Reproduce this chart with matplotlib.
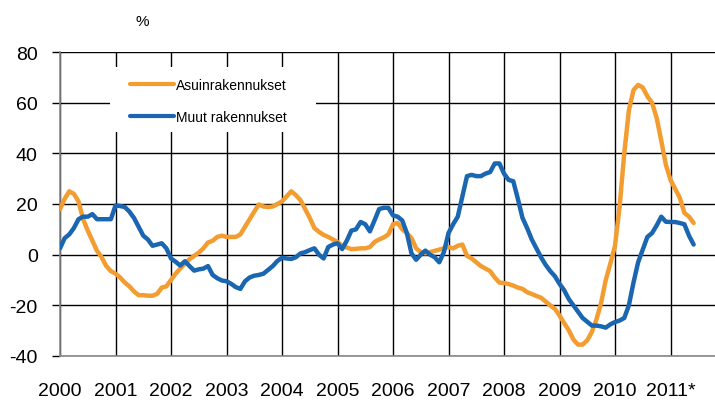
import matplotlib
matplotlib.use("Agg")
import matplotlib.pyplot as plt
import numpy as np
from matplotlib.patches import Rectangle

plt.rcParams["font.family"] = ["Liberation Sans", "DejaVu Sans"]
plt.rcParams["axes.unicode_minus"] = False

# monthly change (%), Jan 2000 - Jun 2011
START_YEAR = 2000
asuin = [
    18, 22, 25, 24, 21, 14, 9.5, 5.5, 1.5, -1, -4.5, -6.5,
    -7.5, -9, -11, -12.5, -14.5, -16, -16, -16.2, -16.2, -15.5, -13, -12.5,
    -10, -7.5, -5.5, -3.5, -1.8, -0.5, 0.8, 2.5, 4.8, 5.5, 7, 7.5,
    7, 7, 7, 8, 11, 14, 17, 19.8, 19, 18.8, 19, 20,
    21, 23, 25, 23.5, 21.5, 18, 14.5, 10.5, 9, 7.8, 7, 6,
    5, 3.5, 2.8, 2.2, 2.3, 2.5, 2.5, 3, 5, 6, 6.8, 8,
    12, 12.5, 10, 8.5, 6.5, 2.5, 1, 0.5, 1, 1.5, 2, 2.5,
    3, 2.5, 3.5, 4, -0.5, -1.5, -3, -4.5, -5.5, -6.5, -9, -11,
    -11.2, -11.6, -12.2, -13, -13.5, -14.8, -15.5, -16.3, -17, -18.5, -20, -21.4,
    -24, -27, -29.8, -33.5, -35.5, -35.5, -33.8, -30.5, -25.5, -19, -10, -3.5,
    3.5, 19, 40, 57, 65, 67, 66, 62.5, 60, 54, 45, 35.5,
    29.5, 26, 22.5, 16.5, 15, 12.5,
]
muut = [
    2.5, 6.5, 8, 10.5, 14, 15, 15, 16, 14, 14, 14, 14,
    19.4, 19.2, 18.8, 17, 14.5, 11, 7.5, 6, 3.5, 4, 4.5, 2.5,
    -1.5, -2.8, -4.3, -2.6, -4.5, -6.3, -5.8, -5.5, -4.5, -8, -9.3, -10.2,
    -10.5, -11.5, -12.8, -13.5, -10.5, -9, -8.3, -8, -7.5, -6, -4.5, -2.5,
    -1.2, -1.5, -1.7, -1, 0.5, 1, 1.8, 2.5, 0, -1.5, 3, 4,
    4.5, 2.2, 5.5, 9.5, 10, 12.9, 12, 9.2, 13.5, 18, 18.5, 18.5,
    15.5, 15, 13.5, 8.5, 0.5, -2, 0, 1.6, 0, -1, -3, 1,
    8.5, 12, 15, 23, 31, 31.5, 31, 31, 32, 32.6, 36, 36,
    32, 29.5, 29, 22, 14.5, 10.5, 6, 2.5, -1, -4, -6.5, -8.5,
    -11.5, -14, -17.5, -20, -22.5, -25, -26.5, -28, -28, -28.3, -28.8, -27.5,
    -26.6, -26, -25, -20, -11, -3, 2, 7, 8.5, 11.5, 15, 13,
    12.9, 12.9, 12.5, 12, 7.5, 4,
]
series_names = ["Asuinrakennukset", "Muut rakennukset"]
year_labels = ["2000", "2001", "2002", "2003", "2004", "2005", "2006",
               "2007", "2008", "2009", "2010", "2011*"]
y_ticks = [-40, -20, 0, 20, 40, 60, 80]

ORANGE = "#F39C30"
BLUE = "#1B66B1"

fig = plt.figure(figsize=(7.15, 4.06), dpi=100)
ax = fig.add_axes([60 / 715, 1 - 357 / 406, 655 / 715, 304 / 406])

x = START_YEAR + np.arange(len(asuin)) / 12.0
ax.plot(x, asuin, color=ORANGE, lw=3.2, label=series_names[0], zorder=3,
        solid_joinstyle="round", solid_capstyle="round")
ax.plot(x, muut, color=BLUE, lw=3.2, label=series_names[1], zorder=3,
        solid_joinstyle="round", solid_capstyle="round")

ax.set_xlim(2000, 2000 + 655 / 55.5)
ax.set_ylim(-40, 80)
ax.set_yticks(y_ticks)
ax.set_xticks(np.arange(len(year_labels)) + START_YEAR)
ax.set_xticklabels(year_labels)
ax.tick_params(axis="y", length=6, width=1, color="black", pad=10, labelsize=14)
ax.tick_params(axis="x", length=0, pad=19, labelsize=14)

ax.set_axisbelow(True)
ax.grid(True, color="black", lw=1.0)
for s in ["top", "right"]:
    ax.spines[s].set_visible(False)
for s in ["left", "bottom"]:
    ax.spines[s].set_color("#888888")
    ax.spines[s].set_linewidth(1.2)

# white block behind the legend hides the grid
ax.add_patch(Rectangle((50 / 655, (357 - 133) / 304), 206 / 655, 65 / 304,
                       transform=ax.transAxes, facecolor="white",
                       edgecolor="none", zorder=1))
leg = ax.legend(loc="upper left", bbox_to_anchor=(70 / 655, (357 - 79) / 304),
                frameon=False, fontsize=10, handlelength=3.2,
                handletextpad=0.1, labelspacing=1.3, borderpad=0,
                borderaxespad=0)
for h in leg.get_lines():
    h.set_linewidth(3)

fig.text(142 / 715, 1 - 22 / 406, "%", ha="center", va="center", fontsize=11)

fig.savefig("out.png", dpi=100)
